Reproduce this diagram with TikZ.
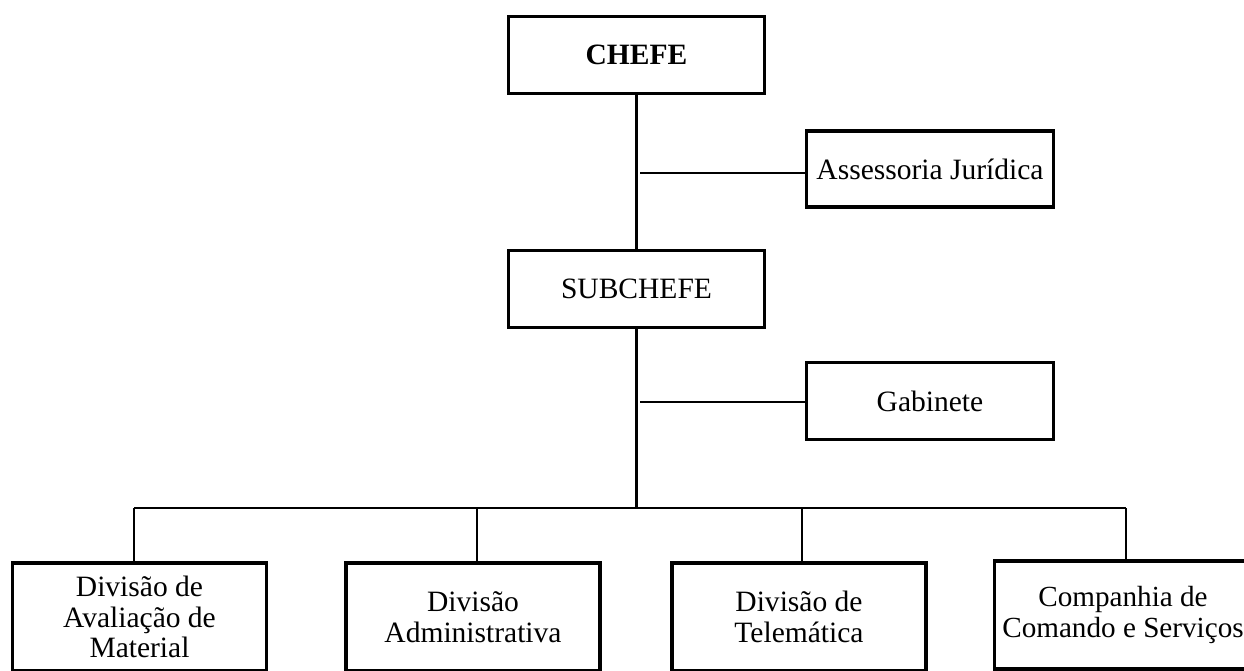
\documentclass[tikz,border=0pt]{standalone}
\usepackage{fontspec}
\setmainfont{Liberation Serif}

\tikzset{
  orgbox/.style={draw,rectangle,line width=2pt,align=center,
    font=\fontsize{16.8}{17.4}\selectfont,inner sep=2pt},
  topbox/.style={orgbox,minimum width=5.12cm,minimum height=1.54cm},
  sidebox/.style={orgbox,minimum width=4.94cm,minimum height=1.52cm},
  divbox/.style={orgbox,minimum width=5.08cm,minimum height=2.16cm}
}

\begin{document}
\begin{tikzpicture}[x=0.02cm,y=-0.02cm,line width=1.5pt]

  \clip (0,0) rectangle (1244,670);

  \node[topbox] (chefe) at (636.5,55) {\textbf{CHEFE}};
  \node[sidebox] (assessoria) at (930,169) {Assessoria Jurídica};
  \node[topbox] (subchefe) at (636.5,289) {SUBCHEFE};
  \node[sidebox,minimum height=1.54cm] (gabinete) at (930,401) {Gabinete};

  \node[divbox] (dam) at (139.5,617) {Divisão de\\Avaliação de\\Material};
  \node[divbox] (dadm) at (473,617) {Divisão\\Administrativa};
  \node[divbox] (dtel) at (799,617) {Divisão de\\Telemática};
  \node[divbox,minimum width=5.14cm,font=\fontsize{16.6}{17.4}\selectfont] (ccs) at (1123,615) {Companhia de\\Comando e Serviços};

  % trunk
  \coordinate (bus) at (636.5,508);
  \draw (chefe.south) -- (subchefe.north);
  \draw (subchefe.south) -- (bus);

  % staff
  \coordinate (ajstart) at (640,173);
  \coordinate (gbstart) at (640,402);
  \draw (ajstart) -- (ajstart -| assessoria.west);
  \draw (gbstart) -- (gbstart -| gabinete.west);

  % divisions
  \coordinate (b1) at (134,508);
  \coordinate (b2) at (477,508);
  \coordinate (b3) at (802,508);
  \coordinate (b4) at (1126,508);
  \draw (b1) -- (b4);
  \draw (b1) -- (b1 |- dam.north);
  \draw (b2) -- (b2 |- dadm.north);
  \draw (b3) -- (b3 |- dtel.north);
  \draw (b4) -- (b4 |- ccs.north);

\end{tikzpicture}
\end{document}
